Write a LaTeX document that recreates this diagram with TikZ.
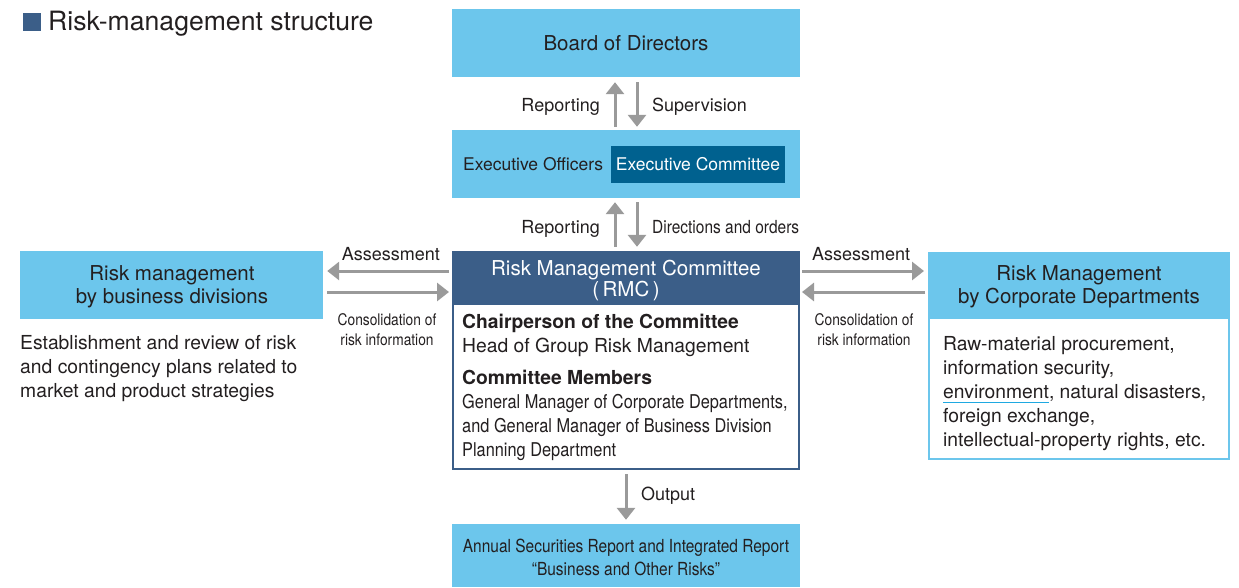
\documentclass[tikz,border=0pt]{standalone}
\usepackage{fontspec}
\setmainfont{TeX Gyre Heros}
\newfontfamily\condfont[FakeStretch=0.86]{TeX Gyre Heros}
\usetikzlibrary{arrows.meta}

\definecolor{lightblue}{HTML}{6CC6EC}
\definecolor{hdrblue}{HTML}{3B5E88}
\definecolor{execblue}{HTML}{00618F}
\definecolor{arrowgray}{HTML}{9A9A9A}
\definecolor{textdark}{HTML}{231F20}
\definecolor{ulblue}{HTML}{1FA9E1}

\newcommand\boxfont{\fontsize{20.5}{23.5}\selectfont}
\newcommand\labfont{\fontsize{18}{24}\selectfont}
\newcommand\bodyfont{\fontsize{19.3}{24}\selectfont}
\newcommand\condlab{\condfont\fontsize{18}{23}\selectfont}
\newcommand\condbody{\condfont\fontsize{19}{24}\selectfont}
\newcommand\condsmall{\condfont\fontsize{16}{20}\selectfont}
\newcommand\blueul[1]{\leavevmode\setbox0\hbox{#1}\rlap{\color{ulblue}\rule[-5pt]{\wd0}{1.5pt}}\box0}

\begin{document}
\begin{tikzpicture}[x=1pt,y=-1pt,
  txt/.style={text=textdark, inner sep=0pt},
  bluebox/.style={fill=lightblue, draw=none, inner sep=0pt},
  arr/.style={draw=arrowgray, line width=3pt, -{Triangle[width=18pt,length=12pt]}}]
\useasboundingbox (0,0) rectangle (1239,587);

% heading (multi-line nodes below are placed by the baseline of their last line)
\node[fill=hdrblue, minimum size=18pt, inner sep=0pt] (sq) at (32,22) {};
\node[txt, anchor=base west, font=\fontsize{26.6}{30}\selectfont] (title) at (48,30) {Risk-management structure};

% central column
\node[bluebox, minimum width=348pt, minimum height=68pt] (board) at (626,43) {};
\node[txt, anchor=base, font=\boxfont] (boardtxt) at (626,50) {Board of Directors};

\node[bluebox, minimum width=348pt, minimum height=68pt] (exec) at (626,164) {};
\node[txt, anchor=base west, font=\fontsize{17.5}{24}\selectfont] (officers) at (463,170) {Executive Officers};
\node[fill=execblue, minimum width=174pt, minimum height=37pt, inner sep=0pt] (execcom) at (698,164.5) {};
\node[text=white, inner sep=0pt, anchor=base, font=\fontsize{17.5}{24}\selectfont] (execcomtxt) at (698,170) {Executive Committee};

\node[draw=hdrblue, line width=2pt, fill=white, minimum width=346pt, minimum height=217pt, inner sep=0pt] (rmc) at (626,360.5) {};
\node[fill=hdrblue, minimum width=348pt, minimum height=54pt, inner sep=0pt] (rmchead) at (626,278) {};
\node[text=white, inner sep=0pt, anchor=base, align=center, font=\fontsize{20.5}{21}\selectfont] (rmctxt) at (626,296) {Risk Management Committee\\(\,RMC\,)};
\node[txt, anchor=base west, align=left, font=\bodyfont] (chair) at (462,352) {\textbf{Chairperson of the Committee}\\Head of Group Risk Management};
\node[txt, anchor=base west, align=left, font=\bodyfont] (members) at (462,456) {\textbf{Committee Members}\\{\condbody General Manager of Corporate Departments,}\\{\condbody and General Manager of Business Division}\\{\condbody Planning Department}};

\node[bluebox, minimum width=348pt, minimum height=63pt] (report) at (626,555.5) {};
\node[txt, anchor=base, align=center, font=\condlab] (reporttxt) at (626,575) {Annual Securities Report and Integrated Report\\“Business and Other Risks”};

% left side
\node[bluebox, minimum width=303pt, minimum height=68pt] (lbox) at (171.5,285) {};
\node[txt, anchor=base, align=center, font=\boxfont] (lboxtxt) at (172,303.5) {Risk management\\by business divisions};
\node[txt, anchor=base west, align=left, font=\bodyfont] (lbody) at (20,397) {Establishment and review of risk\\and contingency plans related to\\market and product strategies};

% right side
\node[draw=lightblue, line width=2pt, fill=white, minimum width=300pt, minimum height=206pt, inner sep=0pt] (rbox) at (1079,356) {};
\node[bluebox, minimum width=302pt, minimum height=67pt] (rhead) at (1079,285.5) {};
\node[txt, anchor=base, align=center, font=\boxfont] (rheadtxt) at (1079,303.5) {Risk Management\\by Corporate Departments};
\node[txt, anchor=base west, align=left, font=\bodyfont] (rbody) at (943,446) {Raw-material procurement,\\information security,\\\blueul{environment}, natural disasters,\\foreign exchange,\\intellectual-property rights, etc.};

% vertical connectors
\draw[arr, shorten <=3pt, shorten >=5pt] ([xshift=-11pt]exec.north) -- ([xshift=-11pt]board.south);
\draw[arr, shorten <=5pt, shorten >=3pt] ([xshift=11pt]board.south) -- ([xshift=11pt]exec.north);
\node[txt, anchor=base east, font=\labfont] (rep1) at (600,111) {Reporting};
\node[txt, anchor=base west, font=\labfont] (sup) at (652,111) {Supervision};

\draw[arr, shorten <=4pt, shorten >=4pt] ([xshift=-11pt]rmchead.north) -- ([xshift=-11pt]exec.south);
\draw[arr, shorten <=4pt, shorten >=4pt] ([xshift=11pt]exec.south) -- ([xshift=11pt]rmchead.north);
\node[txt, anchor=base east, font=\labfont] (rep2) at (600,233) {Reporting};
\node[txt, anchor=base west, font=\condlab] (dir) at (652,233) {Directions and orders};

\draw[arr, shorten <=4pt, shorten >=4pt] (rmc.south) -- (report.north);
\node[txt, anchor=base west, font=\labfont] (out) at (641,500) {Output};

% horizontal connectors
\coordinate (lup) at ([yshift=14pt]lbox.east);
\coordinate (llo) at ([yshift=-7pt]lbox.east);
\coordinate (rup) at ([yshift=14.5pt]rbox.west |- rhead.west);
\coordinate (rlo) at ([yshift=-6.5pt]rbox.west |- rhead.west);
\draw[arr, shorten <=3pt, shorten >=4pt] (lup -| rmc.west) -- (lup);
\draw[arr, shorten <=4pt, shorten >=3pt] (llo) -- (llo -| rmc.west);
\draw[arr, shorten <=2pt, shorten >=4pt] (rup -| rmc.east) -- (rup);
\draw[arr, shorten <=3pt, shorten >=2pt] (rlo) -- (rlo -| rmc.east);

\node[txt, anchor=base east, font=\labfont] (assl) at (440,260) {Assessment};
\node[txt, anchor=base, align=center, font=\condsmall] (consl) at (387,345) {Consolidation of\\risk information};
\node[txt, anchor=base west, font=\labfont] (assr) at (812,260) {Assessment};
\node[txt, anchor=base, align=center, font=\condsmall] (consr) at (864,345) {Consolidation of\\risk information};
\end{tikzpicture}
\end{document}
